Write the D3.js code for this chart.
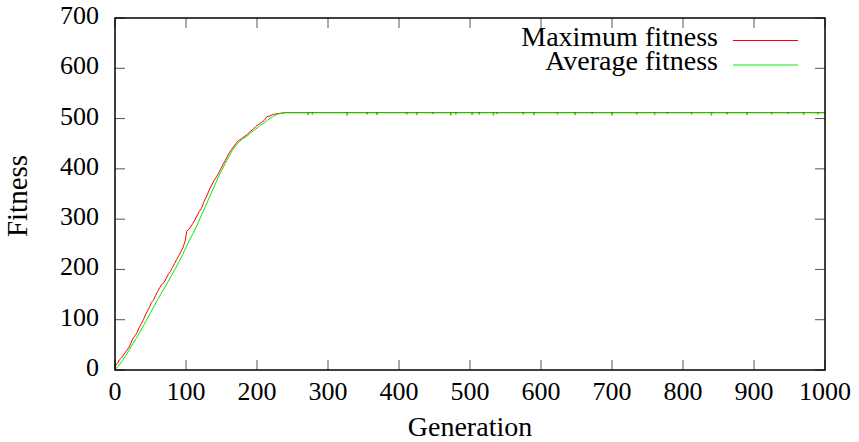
<!DOCTYPE html>
<html>
<head>
<meta charset="utf-8">
<script src="https://cdn.jsdelivr.net/npm/d3@7"></script>
</head>
<body style="margin:0">
<script>
// generations / fitness
const maxGen = [0, 2, 4, 6, 9, 12, 14, 17, 20, 22, 25, 28, 31, 34, 37, 40, 43, 46, 49, 51, 54, 57,
  60, 63, 66, 69, 72, 75, 78, 81, 84, 87, 90, 93, 96, 99, 101, 104, 107, 110, 113, 116, 119, 122,
  125, 128, 131, 134, 137, 140, 143, 146, 149, 152, 155, 158, 161, 164, 167, 170, 174, 178, 182,
  186, 190, 194, 198, 202, 206, 210, 214, 218, 222, 226, 230, 236, 240, 1000];
const maxFit = [5, 12, 14, 20, 24, 30, 34, 40, 46, 52, 62, 68, 74, 84, 92, 100, 110, 118, 126, 134, 138, 148,
  156, 164, 170, 174, 182, 190, 196, 204, 212, 220, 228, 236, 244, 258, 276, 280, 286, 292, 300, 308, 316, 322,
  334, 342, 352, 362, 370, 378, 384, 392, 400, 408, 416, 424, 432, 438, 444, 450, 456, 460, 464,
  468, 474, 478, 484, 488, 492, 496, 504, 505, 508, 509, 510, 511, 512, 512];

const avgGen = [0, 5, 10, 15, 20, 25, 30, 35, 40, 45, 50, 55, 60, 65, 70, 75, 80, 85, 90, 95,
  100, 105, 110, 115, 120, 125, 130, 135, 140, 145, 150, 155, 160, 165, 170, 175, 180, 185, 190, 195,
  200, 205, 210, 215, 220, 225, 230, 235, 240];
const avgFit = [1, 8, 18, 28, 40, 52, 63, 75, 88, 101, 114, 127, 140, 152, 164, 176, 189, 202, 215, 229,
  244, 259, 272, 286, 302, 318, 334, 350, 366, 382, 396, 410, 423, 436, 446, 454, 460, 464, 470, 476,
  481, 487, 491, 497, 502, 506, 509, 511, 511.5];
// small drops of the average on the plateau
const avgPlateau = 511.5;
const avgDipGen = [272, 278, 327, 355, 369, 411, 425, 448, 473, 480, 503, 513, 533, 538, 575, 590,
  623, 648, 672, 700, 735, 760, 778, 812, 840, 862, 890, 925, 948, 970, 990];
const avgDipFit = [507, 508, 506, 508, 507, 508, 507, 509, 506, 508, 507, 508, 506, 509, 508, 507,
  508, 507, 509, 506, 508, 507, 509, 508, 506, 508, 507, 508, 509, 507, 508];

const xTicks = [0, 100, 200, 300, 400, 500, 600, 700, 800, 900, 1000];
const yTicks = [0, 100, 200, 300, 400, 500, 600, 700];

const margin = { top: 18, right: 34, bottom: 72, left: 115 };
const width = 859 - margin.left - margin.right;
const height = 442 - margin.top - margin.bottom;

const svg = d3.select("body").append("svg")
  .attr("width", 859)
  .attr("height", 442)
  .attr("font-family", "Liberation Serif");
const g = svg.append("g")
  .attr("transform", "translate(" + margin.left + "," + margin.top + ")");

const x = d3.scaleLinear().domain([0, 1000]).range([0, width]);
const y = d3.scaleLinear().domain([0, 700]).range([height, 0]);

// inward ticks on all four sides, like gnuplot mirror
const tickLen = 10;
g.selectAll(".xt").data(xTicks).join("line")
  .attr("x1", d => x(d)).attr("x2", d => x(d))
  .attr("y1", height).attr("y2", height - tickLen)
  .attr("stroke", "#555").attr("stroke-width", 1);
g.selectAll(".xtt").data(xTicks).join("line")
  .attr("x1", d => x(d)).attr("x2", d => x(d))
  .attr("y1", 0).attr("y2", tickLen)
  .attr("stroke", "#555").attr("stroke-width", 1);
g.selectAll(".yt").data(yTicks).join("line")
  .attr("x1", 0).attr("x2", tickLen)
  .attr("y1", d => y(d)).attr("y2", d => y(d))
  .attr("stroke", "#555").attr("stroke-width", 1);
g.selectAll(".ytr").data(yTicks).join("line")
  .attr("x1", width).attr("x2", width - tickLen)
  .attr("y1", d => y(d)).attr("y2", d => y(d))
  .attr("stroke", "#555").attr("stroke-width", 1);

// tick labels
g.selectAll(".xl").data(xTicks).join("text")
  .attr("x", d => x(d)).attr("y", height + 30)
  .attr("text-anchor", "middle")
  .attr("font-family", "Liberation Serif").attr("font-size", 26)
  .text(d => d);
g.selectAll(".yl").data(yTicks).join("text")
  .attr("x", -16).attr("y", d => y(d) + 6)
  .attr("text-anchor", "end")
  .attr("font-family", "Liberation Serif").attr("font-size", 26)
  .text(d => d);

// axis titles
svg.append("text")
  .attr("x", margin.left + width / 2).attr("y", 436)
  .attr("text-anchor", "middle")
  .attr("font-family", "Liberation Serif").attr("font-size", 28)
  .text("Generation");
svg.append("text")
  .attr("transform", "translate(27,196) rotate(-90)")
  .attr("text-anchor", "middle")
  .attr("font-family", "Liberation Serif").attr("font-size", 29)
  .text("Fitness");

// series
const maxData = maxGen.map((d, i) => ({ gen: d, fit: maxFit[i] }));
let avgData = avgGen.map((d, i) => ({ gen: d, fit: avgFit[i] }));
avgDipGen.forEach((d, i) => {
  avgData.push({ gen: d - 1, fit: avgPlateau });
  avgData.push({ gen: d, fit: avgDipFit[i] });
  avgData.push({ gen: d + 1, fit: avgPlateau });
});
avgData.push({ gen: 1000, fit: avgPlateau });

const line = d3.line()
  .x(d => x(d.gen))
  .y(d => y(d.fit));

g.append("path").datum(maxData)
  .attr("d", line)
  .attr("fill", "none").attr("stroke", "#ff0000").attr("stroke-width", 1);
g.append("path").datum(avgData)
  .attr("d", line)
  .attr("fill", "none").attr("stroke", "#00ee00").attr("stroke-width", 1);

// border
g.append("rect")
  .attr("width", width).attr("height", height)
  .attr("fill", "none").attr("stroke", "#000").attr("stroke-width", 1.5);

// legend
const legend = [
  { name: "Maximum fitness", color: "#ff0000", yy: 40.5, base: 46 },
  { name: "Average fitness", color: "#00ee00", yy: 65, base: 70 }
];
legend.forEach(l => {
  svg.append("text")
    .attr("x", 718).attr("y", l.base)
    .attr("text-anchor", "end")
    .attr("font-family", "Liberation Serif").attr("font-size", 28)
    .text(l.name);
  svg.append("line")
    .attr("x1", 733).attr("x2", 798)
    .attr("y1", l.yy).attr("y2", l.yy)
    .attr("stroke", l.color).attr("stroke-width", 1);
});
</script>
</body>
</html>
